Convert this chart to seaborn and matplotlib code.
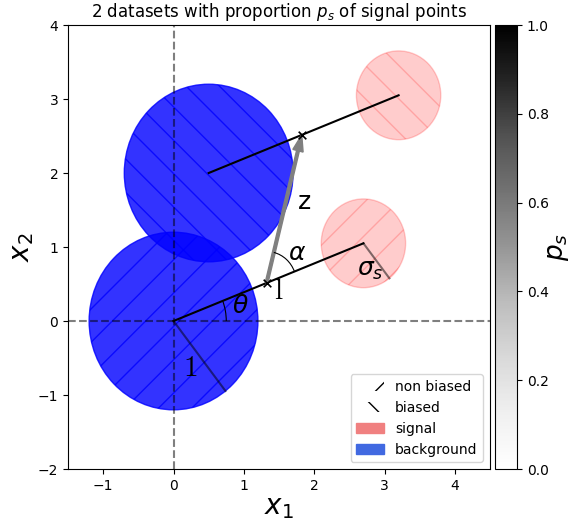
import numpy as np
import matplotlib
matplotlib.use("Agg")
import matplotlib.pyplot as plt
import seaborn as sns
from matplotlib.patches import Circle, Arc, Patch
from matplotlib.cm import ScalarMappable
from matplotlib.colors import Normalize

# data
bg_x = [0.0, 0.5]          # background centres
bg_y = [0.0, 2.0]
bg_r = 1.2
sig_x = [2.7, 3.2]         # signal centres
sig_y = [1.05, 3.05]
sig_r = 0.6
hatches = ['/', '\\']
l_frac = 0.49              # position of the "l" point on the centre line
rad_angle = -52            # direction of the radius lines (deg)
legend_labels = ['non biased', 'biased', 'signal', 'background']
cbar_ticks = [0.0, 0.2, 0.4, 0.6, 0.8, 1.0]

fig = plt.figure(figsize=(5.73, 5.22), dpi=100)
ax = fig.add_axes([0.1187, 0.1015, 0.7365, 0.8506])
cax = fig.add_axes([0.8639, 0.1015, 0.0384, 0.8506])

# circles
for i in range(2):
    ax.add_patch(Circle((bg_x[i], bg_y[i]), bg_r, facecolor='blue', edgecolor='blue',
                        alpha=0.8, hatch=hatches[i], zorder=1))
    ax.add_patch(Circle((sig_x[i], sig_y[i]), sig_r, facecolor='red', edgecolor='red',
                        alpha=0.2, hatch=hatches[i], zorder=1))

ax.axhline(0, color='k', ls='--', alpha=0.5, zorder=2)
ax.axvline(0, color='k', ls='--', alpha=0.5, zorder=2)

# lines between centres
lx, ly = [], []
for i in range(2):
    sns.lineplot(x=[bg_x[i], sig_x[i]], y=[bg_y[i], sig_y[i]], sort=False,
                 color='k', lw=1.5, ax=ax, zorder=3)
    lx.append(bg_x[i] + l_frac * (sig_x[i] - bg_x[i]))
    ly.append(bg_y[i] + l_frac * (sig_y[i] - bg_y[i]))
sns.scatterplot(x=lx, y=ly, marker='x', color='k', s=30, linewidth=1.2, ax=ax, zorder=4)

# radius lines
a = np.deg2rad(rad_angle)
sns.lineplot(x=[bg_x[0], bg_x[0] + bg_r * np.cos(a)], y=[bg_y[0], bg_y[0] + bg_r * np.sin(a)],
             sort=False, color='k', alpha=0.5, lw=1.5, ax=ax, zorder=3)
sns.lineplot(x=[sig_x[0], sig_x[0] + sig_r * np.cos(a)], y=[sig_y[0], sig_y[0] + sig_r * np.sin(a)],
             sort=False, color='k', alpha=0.5, lw=1.5, ax=ax, zorder=3)

# z arrow
ax.arrow(lx[0], ly[0], lx[1] - lx[0], ly[1] - ly[0], width=0.04, head_width=0.15,
         head_length=0.22, length_includes_head=True, color='gray', zorder=3)

# angles
theta = np.degrees(np.arctan2(sig_y[0] - bg_y[0], sig_x[0] - bg_x[0]))
alpha_end = np.degrees(np.arctan2(ly[1] - ly[0], lx[1] - lx[0]))
ax.add_patch(Arc((bg_x[0], bg_y[0]), 1.5, 1.5, theta1=0, theta2=theta, color='k', lw=0.8, zorder=3))
ax.add_patch(Arc((lx[0], ly[0]), 0.85, 0.85, theta1=theta, theta2=alpha_end, color='k', lw=0.8, zorder=3))

kw = dict(fontsize=18, ha='center', va='center')
ax.text(0.95, 0.2, r'$\theta$', **kw)
ax.text(1.76, 0.92, r'$\alpha$', **kw)
ax.text(2.8, 0.69, r'$\sigma_s$', **kw)
ax.text(1.5, 0.4, r'$\mathrm{l}$', fontsize=21, ha='center', va='center', math_fontfamily='cm')
ax.text(0.24, -0.64, r'$1$', fontsize=21, ha='center', va='center', math_fontfamily='cm')
ax.text(1.86, 1.61, 'z', **kw)

ax.set_xlim(-1.5, 4.5)
ax.set_ylim(-2, 4)
ax.set_xlabel('$x_1$', fontsize=20, labelpad=0)
ax.set_ylabel('$x_2$', fontsize=20, labelpad=1)
ax.set_title('2 datasets with proportion $p_s$ of signal points', fontsize=12)

handles = [Patch(fill=False, lw=0, hatch=hatches[0]),
           Patch(fill=False, lw=0, hatch=hatches[1]),
           Patch(color='lightcoral'),
           Patch(color='royalblue')]
ax.legend(handles, legend_labels, loc='lower right')

cb = fig.colorbar(ScalarMappable(norm=Normalize(0, 1), cmap='Greys'), cax=cax)
cb.set_ticks(cbar_ticks)
cb.set_label('$p_s$', fontsize=19, labelpad=-3)

fig.savefig('out.png', dpi=100)
